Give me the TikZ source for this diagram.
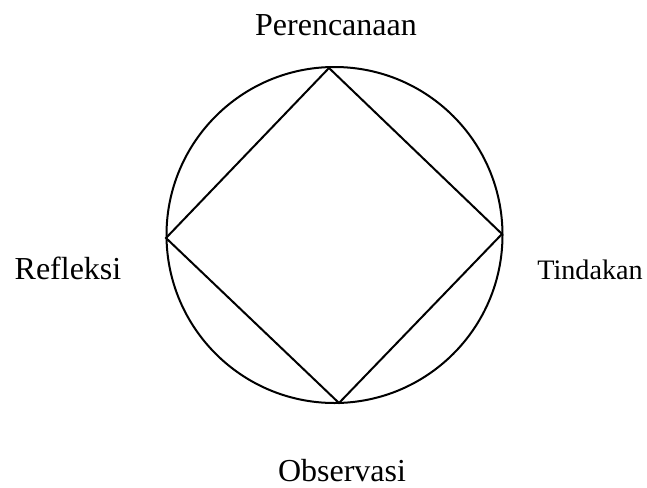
\documentclass[tikz,border=0pt]{standalone}
\usepackage{fontspec}
\setmainfont{Liberation Serif}
\usepackage{tikz}
\usetikzlibrary{positioning}

\begin{document}
\begin{tikzpicture}[
   x=0.5pt,y=-0.5pt,
   font=\fontsize{16}{19}\selectfont,
   lbl/.style={inner sep=0pt,anchor=center},
   ring/.style={draw,line width=1pt},
   edge/.style={line width=1pt,line join=miter}]
 \useasboundingbox (0,0) rectangle (647,487);
 \node[ring,circle,minimum size=168pt,inner sep=0pt] (cyc) at (334.5,235) {};
 \coordinate (top) at (329,68);
 \coordinate (rgt) at (502,234);
 \coordinate (bot) at (339,403);
 \coordinate (lft) at (166,238);
 \node[lbl] (plan) at (336,25) {Perencanaan};
 \node[lbl,font=\fontsize{14.1}{17}\selectfont] (act) at (590,270) {Tindakan};
 \node[lbl] (obs) at (342,471) {Observasi};
 \node[lbl] (refl) at (68,268) {Refleksi};
 \draw[edge] (top) -- (rgt) -- (bot) -- (lft) -- cycle;
\end{tikzpicture}
\end{document}
